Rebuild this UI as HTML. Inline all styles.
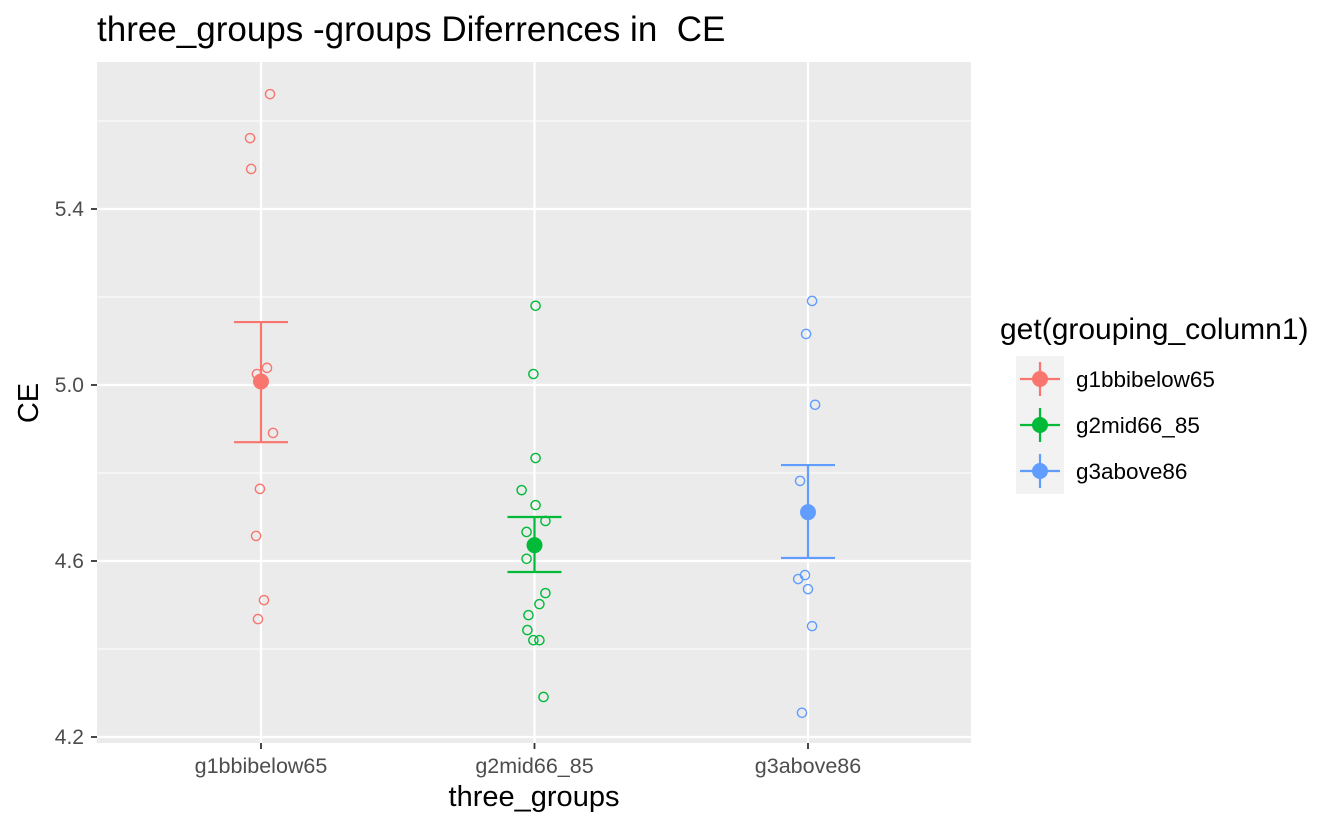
<!DOCTYPE html>
<html><head><meta charset="utf-8"><style>
body{margin:0;background:#fff;}
svg text{font-family:"Liberation Sans",sans-serif;white-space:pre;}
</style></head><body>
<svg id="chart" width="1344" height="830" xmlns="http://www.w3.org/2000/svg"></svg>
<script>
const categories=["g1bbibelow65","g2mid66_85","g3above86"];
const colors=["#F8766D","#00BA38","#619CFF"];
const yTicks=[4.2,4.6,5.0,5.4];
const yMinor=[4.4,4.8,5.2,5.6];
const g1Values=[5.661,5.561,5.491,5.025,5.039,4.891,4.764,4.657,4.511,4.468];
const g1Jitter=[0.033,-0.04,-0.036,-0.015,0.022,0.044,-0.004,-0.018,0.011,-0.011];
const g2Values=[5.18,5.025,4.834,4.761,4.727,4.691,4.666,4.605,4.527,4.502,4.477,4.443,4.42,4.42,4.291];
const g2Jitter=[0.004,-0.004,0.004,-0.047,0.004,0.04,-0.029,-0.029,0.04,0.018,-0.022,-0.026,-0.004,0.018,0.033];
const g3Values=[5.191,5.116,4.955,4.782,4.568,4.559,4.536,4.452,4.255];
const g3Jitter=[0.015,-0.007,0.026,-0.029,-0.011,-0.036,0.0,0.015,-0.022];
const means=[5.008,4.636,4.711];
const upper=[5.143,4.70,4.818];
const lower=[4.870,4.575,4.607];
const NS="http://www.w3.org/2000/svg";
const svg=document.getElementById('chart');
const L=97,R=971,T=62,B=743;
const y=v=>385-(v-5)*440;
const x=i=>261+i*273.5;
function mk(t,a,p){const e=document.createElementNS(NS,t);for(const k in a)e.setAttribute(k,a[k]);(p||svg).appendChild(e);return e;}
const panel=mk('rect',{x:L,y:T,width:R-L,height:B-T,fill:'#EBEBEB'});


yMinor.forEach(v=>{const l=mk('line',{x1:L,x2:R,y1:y(v),y2:y(v),stroke:'#fff','stroke-width':1});

});
yTicks.forEach(v=>{const l=mk('line',{x1:L,x2:R,y1:y(v),y2:y(v),stroke:'#fff','stroke-width':2.2});


mk('line',{x1:L-6,x2:L,y1:y(v),y2:y(v),stroke:'#333','stroke-width':1.8});
const t=mk('text',{x:L-13,y:y(v)+7,'text-anchor':'end','font-size':21,fill:'#4D4D4D'});t.textContent=v.toFixed(1);

});
categories.forEach((c,i)=>{const l=mk('line',{x1:x(i),x2:x(i),y1:T,y2:B,stroke:'#fff','stroke-width':2.2});


mk('line',{x1:x(i),x2:x(i),y1:B,y2:B+6,stroke:'#333','stroke-width':1.8});
const t=mk('text',{x:x(i),y:B+30,'text-anchor':'middle','font-size':21.5,fill:'#4D4D4D'});t.textContent=c;

});
const groups=[[g1Values,g1Jitter],[g2Values,g2Jitter],[g3Values,g3Jitter]];
groups.forEach((g,i)=>{g[0].forEach((v,j)=>{const c=mk('circle',{cx:x(i+g[1][j]),cy:y(v),r:4.6,fill:'none',stroke:colors[i],'stroke-width':1.4});

});});
categories.forEach((c,i)=>{const g=mk('g',{stroke:colors[i],'stroke-width':2.2});


mk('line',{x1:x(i),x2:x(i),y1:y(upper[i]),y2:y(lower[i])},g);
mk('line',{x1:x(i)-27,x2:x(i)+27,y1:y(upper[i]),y2:y(upper[i])},g);
mk('line',{x1:x(i)-27,x2:x(i)+27,y1:y(lower[i]),y2:y(lower[i])},g);
const m=mk('circle',{cx:x(i),cy:y(means[i]),r:8,fill:colors[i]});

});
const title=mk('text',{x:97,y:41,'font-size':35,fill:'#000'});title.textContent='three_groups -groups Diferrences in  CE';


const xt=mk('text',{x:534,y:806,'text-anchor':'middle','font-size':29,fill:'#000'});xt.textContent='three_groups';


const yt=mk('text',{x:0,y:0,'text-anchor':'middle','font-size':29,fill:'#000',transform:'translate(38,403) rotate(-90)'});yt.textContent='CE';


const lt=mk('text',{x:1000,y:339,'font-size':30,fill:'#000'});lt.textContent='get(grouping_column1)';


categories.forEach((c,i)=>{const cy=379+i*46;
const g=mk('g',{});


mk('rect',{x:1016,y:cy-23,width:48,height:46,fill:'#F2F2F2'},g);
mk('line',{x1:1040,x2:1040,y1:cy-17,y2:cy+17,stroke:colors[i],'stroke-width':2.2},g);
mk('line',{x1:1020,x2:1060,y1:cy,y2:cy,stroke:colors[i],'stroke-width':2.2},g);
mk('circle',{cx:1040,cy:cy,r:8,fill:colors[i]},g);
const t=mk('text',{x:1076,y:cy+8,'font-size':22.5,fill:'#000'},g);t.textContent=c;});
</script>
</body></html>
